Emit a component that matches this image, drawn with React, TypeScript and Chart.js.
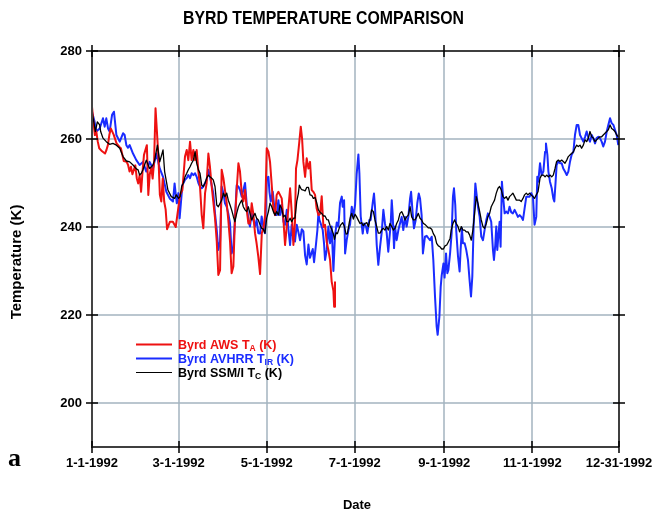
import React, { useEffect, useRef } from "react";
import { Chart, registerables } from "chart.js";

Chart.register(...registerables);

const TITLE = "BYRD TEMPERATURE COMPARISON";
const X_TITLE = "Date";
const Y_TITLE = "Temperature (K)";
const PANEL_LABEL = "a";

const X_TICK_DAYS = [0, 60, 121, 182, 244, 305, 365];
const X_TICK_LABELS = ["1-1-1992", "3-1-1992", "5-1-1992", "7-1-1992", "9-1-1992", "11-1-1992", "12-31-1992"];
const Y_TICK_VALUES = [200, 220, 240, 260, 280];

const AWS_DAYS = [0,1,2,3,4,5,7,9,10,11,12,13,15,17,19,20,22,24,25,26,27,28,30,31,32,33,34,35,36,38,39,40,41,42,43,44,46,47,48,49,50,51,52,54,56,58,61,62.6,64.4,65.6,66.7,67.9,69,70.2,71.4,72.5,73.7,74.8,76,77.1,78.3,79.4,80.6,81.7,82.9,84,85.2,86.4,87.5,88.7,89.8,91,92.1,93.3,94.4,95.6,96.7,97.9,99,100.2,101.4,102.5,103.7,104.8,106,107.1,108.3,109.4,110.6,111.7,112.9,114,115.2,116.4,117.6,118.7,119.9,121,122.2,123.3,124.5,125.6,126.8,127.9,129.1,130.2,131.4,132.6,133.7,134.9,136,137.2,138.3,139.5,140.6,141.3,142.3,143.6,144.6,145.5,146.4,147.6,148.7,149.9,151,152.2,153.3,154.5,155.6,156.8,158,159.1,160.3,161.4,162.6,163.7,164.9,166,167.2,167.7,168.3];
const AWS_TEMPS = [267.3,263.9,260.9,261.7,259.4,257.9,257.2,256.7,257.5,258.6,260.9,262.4,261.0,259.0,258.2,257.9,255.0,254.8,254.1,252.6,253.7,252.0,254.0,251.1,249.9,251.8,248.0,252.6,256.4,258.6,247.3,252.0,253.5,251.0,254.8,267.0,256.0,247.3,245.8,251.0,245.8,244.0,239.5,241.2,241.2,240.0,247.3,248.4,256.0,257.5,255.2,259.4,255.2,257.5,255.2,257.5,252.6,249.2,242.7,239.7,247.7,250.0,256.7,253.7,249.2,245.8,242.0,236.7,229.1,230.2,253.0,251.1,248.4,245.4,241.6,236.7,229.5,231.0,241.6,248.4,254.5,252.6,247.7,245.8,248.4,244.2,240.8,240.8,245.4,243.1,238.6,236.3,233.2,229.3,238.6,239.7,242.7,257.9,257.1,254.8,249.5,244.2,242.7,247.3,248.0,247.3,246.5,241.6,235.9,240.1,244.2,248.8,243.5,235.9,241.2,253.3,255.2,259.4,262.8,260.1,254.8,251.4,255.6,253.3,254.8,248.4,248.0,247.3,244.2,242.7,243.0,247.0,240.0,240.5,236.5,234.8,232.5,227.6,225.5,221.9,227.6];

const AVHRR_DAYS = [0,1.8,3,5.3,7.6,8.8,9.9,11.1,12.2,13.9,15.2,16.9,19.2,21.5,22.6,23.8,24.9,26.1,28.4,30.7,33,35.3,37.6,39.9,42.2,44.6,46.9,49.2,51.5,53.8,56.1,57.2,58.7,59.8,60.7,62.6,64.4,65.6,66.7,67.9,69,70.2,71.4,72.5,73.7,74.8,76,77.1,78.3,79.4,80.6,81.7,82.9,84,85.2,86.4,87.5,88.7,89.8,91,92.1,93.3,94.4,95.6,96.7,97.9,99,100.2,101.4,102.5,103.7,104.8,106,107.1,108.3,109.4,110.6,111.7,112.9,114,115.2,116.4,117.5,118.7,119.8,121,122.2,122.9,123.8,125.2,126.8,127.9,129.1,130.2,131.4,132.6,133.7,134.9,136,137.2,138.3,139.5,140.6,141.8,142.9,144.1,145.3,146.4,147.6,148.7,149.9,151,152.9,153.8,155.2,156.1,156.8,157.5,158.4,159.8,160.7,161.4,162.6,163.7,164.9,166,167.2,168.3,169.5,170.6,171.8,173,173.6,174.6,175.3,176.4,177.6,178.7,179.9,181,182.2,183.3,184.5,185.2,186.1,187.5,188.4,189.8,190.7,192.1,193,194.4,195.3,196,197.2,198.3,199.5,200.6,201.8,202.9,204.1,205.2,205.9,206.9,207.6,208.2,209.2,209.9,211,212.2,213.3,214.5,215.6,216.8,217.9,219.1,220.3,221,222.1,223,224.2,225.3,226.3,227.2,228.3,229.2,230.6,231.8,232.9,234.1,235.3,236.4,237.6,238.7,239.4,240.6,241.5,242.2,243.4,244.2,245.2,246.1,246.8,248,249.1,250,250.7,251.6,252.3,253.5,254.6,255.3,256.2,256.9,258.1,259.2,260.4,261.5,262.5,263.4,264.3,265.5,266.4,267.3,268.5,269.6,270.8,271.9,273.1,274.2,275.4,276.5,277.7,278.4,279.3,280,280.7,281.6,282.3,283,283.9,284.6,285.8,286.9,288.1,289.2,290.4,291.5,292.7,293.9,295,296.2,297.3,298.5,299.6,300.8,301.9,303.1,304.2,305.4,306.5,307.7,308.4,309.1,310.3,311.4,312.6,313.8,314.4,315.4,316.1,317.2,318.4,319.5,320.2,321.1,321.8,323,324.1,325.3,326.4,327.6,328.8,329.9,331.1,332.2,333.4,334.5,335.7,336.8,338,339.1,340.3,341.5,342.6,343.8,344.9,346.1,347.2,348.4,349.5,350.7,351.8,353,354.1,355.3,356.5,357.6,358.8,359.9,361.1,362.2,363.4,364.5];
const AVHRR_TEMPS = [266.2,263.9,261.7,262.4,264.7,262.8,264.7,262.4,261.7,265.5,266.2,260.9,259.4,261.3,260.9,258.6,258.0,258.6,256.7,255.2,254.1,254.8,252.6,254.8,253.3,256.7,253.3,251.4,248.0,246.5,245.8,249.9,245.4,247.7,242.0,249.5,250.7,251.1,251.8,251.1,252.2,251.8,252.2,251.4,250.0,249.2,248.8,249.2,250.0,250.7,253.0,251.4,249.5,247.7,243.1,239.3,234.8,236.7,249.2,247.7,245.4,244.6,243.1,240.8,234.0,235.5,241.6,249.5,249.2,248.4,246.9,248.4,250.0,245.4,241.6,240.1,243.1,241.6,240.1,241.6,238.6,238.5,242.4,240.0,238.6,251.1,251.4,248.0,245.8,248.0,242.7,242.7,246.1,242.7,245.0,241.2,240.5,243.9,239.7,235.9,240.5,237.0,236.7,240.5,238.9,237.0,239.5,239.0,233.5,231.5,236.0,233.0,235.0,232.0,236.3,239.3,243.1,241.6,240.8,239.3,236.3,232.5,234.8,240.1,236.3,240.1,230.0,238.0,241.0,240.1,245.5,246.9,244.6,246.1,234.0,237.0,239.3,240.5,244.6,242.5,245.0,252.0,256.5,252.2,242.5,238.5,240.8,240.1,238.6,241.6,241.6,245.4,247.6,244.6,235.9,231.4,235.5,238.6,243.9,240.8,238.6,234.4,237.0,240.8,246.1,243.1,235.2,240.1,237.0,239.3,240.8,242.3,239.3,242.3,240.1,242.3,246.5,248.0,243.1,239.7,241.6,245.4,247.6,246.5,242.7,234.0,237.8,238.0,237.5,237.0,237.8,232.5,224.0,217.4,215.5,219.6,226.4,229.0,231.7,228.5,234.0,229.5,230.2,234.0,238.6,246.9,248.8,245.0,239.0,233.3,229.9,234.8,239.7,236.3,236.3,234.8,232.5,228.0,224.2,228.7,240.1,249.9,247.3,244.6,242.3,237.8,237.0,239.3,241.6,243.1,242.3,241.2,234.8,232.5,235.9,240.1,234.8,238.6,241.2,235.5,250.3,247.3,243.1,243.5,243.1,244.6,243.3,243.1,243.9,243.1,242.3,242.7,242.3,241.6,244.2,246.9,246.9,246.9,247.7,246.9,240.5,242.3,251.4,250.3,254.5,251.8,252.6,257.1,259.0,256.4,252.6,250.3,248.8,246.5,245.8,250.3,254.1,254.9,254.5,254.5,253.3,252.6,251.8,252.6,254.9,256.4,257.1,260.9,263.2,263.2,260.9,260.2,259.4,260.5,261.7,260.2,259.4,260.9,260.2,259.0,260.2,260.5,260.2,259.4,258.3,259.4,261.7,263.2,264.7,263.6,263.2,262.1,260.9,258.6];

const SSMI_DAYS = [0,1.4,2.3,3.7,5.3,6,7.6,9.9,12.2,14.5,16.9,19.2,21.5,23.8,26.1,28.4,30.7,31.9,33,34.2,35.3,37.6,39.9,42.2,43.4,45.3,46.9,49.2,50.3,52.6,54.9,57.2,58.4,60,61,62.1,63.3,64.4,65.6,66.7,67.9,69,70.2,71.4,72.5,73.7,74.8,76,77.1,78.3,79.4,80.6,81.7,82.9,84,85.2,86.4,87.5,88.7,89.8,91,92.1,93.3,94.4,95.6,96.7,97.9,99,100.2,101.4,102.5,103.7,104.8,106,107.1,108.3,109.4,110.6,111.7,112.9,114,115.2,116.4,117.5,118.7,119.8,121,122.2,123.3,124.5,125.6,126.8,127.9,129.1,130.2,131.4,132.6,133.7,134.9,136,137.2,138.3,139.5,140.6,141.8,142.9,143.6,144.6,145.3,146.4,147.6,148.7,149.9,151,152.2,153.3,154.5,155.6,156.8,158,159.1,160.3,161.4,162.6,163.7,164.9,166,167.2,167.9,169.1,170,171.3,172.3,173.6,174.6,176,176.9,178.3,179.2,179.9,181,182.2,183.3,184.5,185.6,186.8,187.9,189.1,190.3,191.4,192.5,193.7,194.9,196,197.2,198.3,199.5,200.6,201.8,202.9,204.1,205.2,206.4,207.6,208.7,209.9,211,212.2,213.3,214.5,215.6,216.8,217.9,219.1,220.3,221.4,222.6,223.7,224.9,226,227.2,228.3,229.5,230.6,231.8,232.9,234.1,235.3,236.4,237.6,238.7,239.9,241,242.2,243.4,244.5,245.7,246.8,248,248.8,250,251.1,252.3,253.5,254.6,255.8,256.9,258.1,259.2,260.4,261.5,262.7,263.8,265,266.1,267.3,268.5,269.6,270.8,271.9,273.1,274.2,275.4,276.5,277.7,278.8,280,281.2,282.3,283.5,284.6,285.8,286.9,288.1,289.2,290.4,291.5,292.7,293.9,295,296.2,297.3,298.5,299.6,300.8,301.9,303.1,304.2,305.4,306.5,307.7,308.9,310.3,311.4,312.6,313.8,314.9,316.1,317.2,318.4,319.5,320.7,321.8,323,324.1,325.3,326.4,327.6,328.8,329.9,331.1,332.2,333.4,334.5,335.7,336.8,338,339.1,340.3,341.5,342.6,343.8,344.9,346.1,347.2,348.4,349.5,350.7,351.8,353,354.1,355.3,356.5,357.6,358.8,359.9,361.1,362.2,363.4,364.5];
const SSMI_TEMPS = [266.2,263.6,261.7,263.9,263.2,261.7,260.2,259.4,258.8,259.0,258.6,257.9,256.0,255.0,254.8,254.1,253.2,253.0,251.8,252.2,253.0,255.2,253.3,254.1,255.2,258.6,254.8,257.5,252.6,248.4,246.9,246.5,247.3,246.5,246.9,249.2,250.0,251.4,252.2,253.0,253.7,254.5,255.2,257.1,254.5,253.0,252.2,249.5,249.2,250.0,251.1,251.8,251.4,251.1,250.7,249.2,245.0,244.6,245.4,246.1,247.7,246.9,247.7,246.1,245.0,243.9,242.4,241.2,243.1,244.6,245.4,246.1,244.6,243.9,243.5,244.6,243.1,241.6,242.4,243.1,242.0,241.6,240.5,239.7,239.5,238.6,242.0,243.5,245.4,244.6,243.5,242.7,243.5,242.7,245.0,244.2,242.3,242.7,241.2,241.2,242.0,241.2,242.0,242.0,245.8,247.6,249.5,248.8,248.5,248.4,248.2,249.0,249.0,247.3,247.2,246.5,246.7,245.6,243.9,243.3,243.1,242.5,242.5,241.7,241.6,240.3,239.5,238.4,237.2,238.7,238.5,239.8,240.5,241.0,240.3,238.4,238.5,241.2,242.5,243.1,241.8,242.9,242.3,241.5,240.8,241.0,240.3,240.8,241.0,240.1,241.6,243.9,243.5,241.6,240.1,238.6,238.6,239.3,239.7,239.3,240.1,239.3,240.8,240.1,239.3,239.7,240.8,241.6,243.1,243.5,242.7,241.6,242.3,242.7,244.6,242.3,241.6,241.6,242.3,243.1,242.0,241.6,240.8,240.6,240.2,239.8,239.8,239.5,238.5,237.8,236.3,235.7,235.5,235.0,235.0,235.7,235.9,236.6,237.4,239.3,240.8,241.6,240.8,240.1,238.9,240.1,239.3,239.3,238.9,238.9,238.2,237.0,239.3,243.1,246.9,245.4,243.5,241.6,240.1,239.7,240.8,242.3,243.1,244.6,245.4,246.1,247.7,248.8,249.2,248.4,246.9,246.5,246.9,246.1,246.9,247.3,247.7,246.9,246.1,246.1,246.1,245.8,246.5,247.3,247.7,247.3,247.7,247.3,246.9,246.5,247.3,248.0,251.1,251.8,251.8,251.4,251.8,251.4,251.8,251.4,251.8,253.3,254.9,255.2,254.9,255.2,254.9,254.5,255.2,256.0,256.4,256.7,257.1,257.9,258.6,258.3,258.6,257.9,258.6,259.8,259.4,260.2,261.7,260.5,260.2,259.4,259.8,260.2,260.5,260.5,260.9,261.3,261.7,262.1,263.2,262.4,262.1,261.7,260.9,260.5];

const RED = "#ee1111";
const BLUE = "#1a2cff";
const BLACK = "#000000";
const GRID = "#a3b3bf";
const FONT = '"Liberation Sans", Arial, Helvetica, sans-serif';

const toPoints = (xs: number[], ys: number[]) => xs.map((d, i) => ({ x: d, y: ys[i] }));

const LEGEND = [
  { color: RED, width: 2, parts: [["Byrd AWS T", false], ["A", true], [" (K)", false]] },
  { color: BLUE, width: 2, parts: [["Byrd AVHRR T", false], ["IR", true], [" (K)", false]] },
  { color: BLACK, width: 1.2, parts: [["Byrd SSM/I T", false], ["C", true], [" (K)", false]] },
];

const decorPlugin = {
  id: "decor",
  beforeDatasetsDraw(chart: any) {
    const { ctx, chartArea: a, scales } = chart;
    const x = scales.x, y = scales.y;
    ctx.save();
    ctx.strokeStyle = GRID;
    ctx.lineWidth = 1.5;
    X_TICK_DAYS.slice(1, -1).forEach((d) => {
      const px = Math.round(x.getPixelForValue(d));
      ctx.beginPath(); ctx.moveTo(px, a.top); ctx.lineTo(px, a.bottom); ctx.stroke();
    });
    Y_TICK_VALUES.filter((v) => v < 280).forEach((v) => {
      const py = Math.round(y.getPixelForValue(v));
      ctx.beginPath(); ctx.moveTo(a.left, py); ctx.lineTo(a.right, py); ctx.stroke();
    });
    ctx.restore();
  },
  afterDatasetsDraw(chart: any) {
    const { ctx, chartArea: a, scales } = chart;
    const x = scales.x, y = scales.y;
    ctx.save();
    // frame
    ctx.lineWidth = 1.5;
    ctx.strokeStyle = BLACK;
    ctx.beginPath();
    ctx.moveTo(a.left, a.top); ctx.lineTo(a.right, a.top);
    ctx.moveTo(a.right, a.top); ctx.lineTo(a.right, a.bottom);
    ctx.moveTo(a.left, a.bottom); ctx.lineTo(a.right, a.bottom);
    ctx.stroke();
    ctx.strokeStyle = "#444";
    ctx.lineWidth = 2;
    ctx.beginPath(); ctx.moveTo(a.left, a.top - 1); ctx.lineTo(a.left, a.bottom + 1); ctx.stroke();
    // ticks
    ctx.strokeStyle = BLACK;
    ctx.lineWidth = 1.5;
    const T = 6;
    X_TICK_DAYS.forEach((d) => {
      const px = Math.round(x.getPixelForValue(d));
      ctx.beginPath();
      ctx.moveTo(px, a.top - T); ctx.lineTo(px, a.top + T);
      ctx.moveTo(px, a.bottom - T); ctx.lineTo(px, a.bottom + T);
      ctx.stroke();
    });
    Y_TICK_VALUES.forEach((v) => {
      const py = Math.round(y.getPixelForValue(v));
      ctx.beginPath();
      ctx.moveTo(a.left - T, py); ctx.lineTo(a.left + T, py);
      ctx.moveTo(a.right - T, py); ctx.lineTo(a.right + T, py);
      ctx.stroke();
    });

    // legend
    LEGEND.forEach((item, i) => {
      const ly = 344.5 + i * 14;
      ctx.strokeStyle = item.color;
      ctx.lineWidth = item.width;
      ctx.beginPath(); ctx.moveTo(136, ly); ctx.lineTo(172, ly); ctx.stroke();
      let tx = 178;
      ctx.fillStyle = item.color;
      ctx.textAlign = "left";
      ctx.textBaseline = "alphabetic";
      item.parts.forEach(([t, sub]: any) => {
        ctx.font = sub ? `bold 8.5px ${FONT}` : `bold 12.5px ${FONT}`;
        ctx.fillText(t, tx, ly + 4.5 + (sub ? 2 : 0));
        tx += ctx.measureText(t).width;
      });
    });

    // title
    ctx.fillStyle = BLACK;
    ctx.font = `bold 19px ${FONT}`;
    const w = ctx.measureText(TITLE).width;
    ctx.save();
    ctx.translate(323.5, 24);
    ctx.scale(281 / w, 1);
    ctx.textAlign = "center";
    ctx.fillText(TITLE, 0, 0);
    ctx.restore();

    // axis titles
    ctx.font = `bold 13px ${FONT}`;
    ctx.textAlign = "center";
    ctx.fillText(X_TITLE, 357, 509);
    ctx.save();
    ctx.translate(17, 262);
    ctx.rotate(-Math.PI / 2);
    ctx.font = `bold 15px ${FONT}`;
    ctx.textBaseline = "middle";
    ctx.fillText(Y_TITLE, 0, 0);
    ctx.restore();

    // panel label
    ctx.font = `bold 26px "Liberation Serif", "Times New Roman", serif`;
    ctx.textAlign = "left";
    ctx.textBaseline = "alphabetic";
    ctx.fillText(PANEL_LABEL, 8, 466);
    ctx.restore();
  },
};

export default function App() {
  const ref = useRef<HTMLCanvasElement | null>(null);
  useEffect(() => {
    if (!ref.current) return;
    const chart = new Chart(ref.current, {
      type: "line",
      data: {
        datasets: [
          { label: "Byrd SSM/I Tc (K)", data: toPoints(SSMI_DAYS, SSMI_TEMPS), borderColor: BLACK, borderWidth: 1.3, order: 0 },
          { label: "Byrd AWS TA (K)", data: toPoints(AWS_DAYS, AWS_TEMPS), borderColor: RED, borderWidth: 2, order: 1 },
          { label: "Byrd AVHRR TIR (K)", data: toPoints(AVHRR_DAYS, AVHRR_TEMPS), borderColor: BLUE, borderWidth: 2, order: 2 },
        ].map((d) => ({ ...d, pointRadius: 0, tension: 0, fill: false, borderJoinStyle: "round" as const })),
      },
      options: {
        animation: false,
        responsive: false,
        devicePixelRatio: 1,
        layout: { padding: { top: 51, right: 33, left: 0, bottom: 0 } },
        plugins: { legend: { display: false }, title: { display: false }, tooltip: { enabled: false } },
        scales: {
          x: {
            type: "linear",
            min: 0,
            max: 365,
            afterBuildTicks: (s: any) => { s.ticks = X_TICK_DAYS.map((v) => ({ value: v })); },
            afterFit: (s: any) => { s.height = 67; s.paddingLeft = 0; s.paddingRight = 0; },
            grid: { display: false, drawTicks: false },
            border: { display: false },
            ticks: {
              autoSkip: false,
              maxRotation: 0,
              padding: 9,
              color: BLACK,
              font: { family: FONT, size: 13, weight: "bold" },
              callback: (_v: any, i: number) => X_TICK_LABELS[i],
            },
          },
          y: {
            type: "linear",
            min: 190,
            max: 280,
            afterBuildTicks: (s: any) => { s.ticks = Y_TICK_VALUES.map((v) => ({ value: v })); },
            afterFit: (s: any) => { s.width = 92; s.paddingTop = 0; s.paddingBottom = 0; },
            grid: { display: false, drawTicks: false },
            border: { display: false },
            ticks: {
              padding: 10,
              color: BLACK,
              font: { family: FONT, size: 13, weight: "bold" },
            },
          },
        },
      },
      plugins: [decorPlugin],
    });
    return () => chart.destroy();
  }, []);
  return (
    <div style={{ position: "fixed", left: 0, top: 0, width: 652, height: 514, background: "#fff" }}>
      <canvas ref={ref} width={652} height={514} style={{ display: "block" }} />
    </div>
  );
}
